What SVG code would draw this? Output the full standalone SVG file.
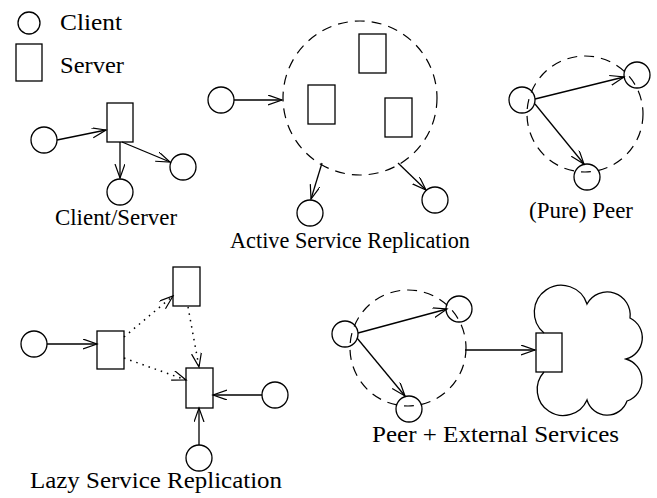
<svg xmlns="http://www.w3.org/2000/svg" width="657" height="498" viewBox="0 0 657 498">
<style>
.n{fill:none;stroke:#000;stroke-width:1.3}
.d{fill:none;stroke:#000;stroke-width:1.2;stroke-dasharray:10 7}
.a{fill:none;stroke:#000;stroke-width:1.3;marker-end:url(#ah)}
.o{fill:none;stroke:#000;stroke-width:1.5;stroke-dasharray:1.5 5;marker-end:url(#ah)}
text{font-family:"Liberation Serif","Times New Roman",serif;font-size:23px;fill:#000}
</style>
<defs>
<marker id="ah" markerUnits="userSpaceOnUse" markerWidth="16" markerHeight="12" refX="14" refY="5" orient="auto">
<path d="M0,0 L14,5 L0,10" fill="none" stroke="#000" stroke-width="1.2"/>
</marker>
</defs>
<rect width="657" height="498" fill="#fff"/>

<g id="legend">
<circle class="n" cx="29" cy="23" r="11"/>
<text x="60" y="30" font-size="22" textLength="62" lengthAdjust="spacingAndGlyphs">Client</text>
<rect class="n" x="16" y="44" width="26" height="37"/>
<text x="60" y="73" font-size="22" textLength="64" lengthAdjust="spacingAndGlyphs">Server</text>
</g>

<g id="client-server">
<rect class="n" x="107" y="103" width="26" height="39"/>
<circle class="n" cx="44" cy="140" r="13"/>
<circle class="n" cx="120" cy="192" r="13"/>
<circle class="n" cx="183" cy="167" r="13"/>
<text x="55" y="225" textLength="122" lengthAdjust="spacingAndGlyphs">Client/Server</text>
</g>

<g id="active-replication">
<circle class="d" cx="360" cy="98" r="77"/>
<rect class="n" x="359" y="34" width="27" height="39"/>
<rect class="n" x="308" y="85" width="27" height="39"/>
<rect class="n" x="385" y="98" width="27" height="39"/>
<circle class="n" cx="221" cy="100" r="13"/>
<circle class="n" cx="310" cy="213" r="13"/>
<circle class="n" cx="435" cy="200" r="13"/>
<text x="230" y="248" textLength="240" lengthAdjust="spacingAndGlyphs">Active Service Replication</text>
</g>

<g id="pure-peer">
<circle class="d" cx="585" cy="114" r="58"/>
<circle class="n" cx="522" cy="100" r="13"/>
<circle class="n" cx="637" cy="75" r="13"/>
<circle class="n" cx="587" cy="177" r="13"/>
<text x="581" y="218" text-anchor="middle" textLength="104" lengthAdjust="spacingAndGlyphs">(Pure) Peer</text>
</g>

<g id="lazy-replication">
<rect class="n" x="173" y="267" width="27" height="39"/>
<rect class="n" x="97" y="331" width="27" height="38"/>
<rect class="n" x="186" y="368" width="27" height="40"/>
<circle class="n" cx="34" cy="344" r="13"/>
<circle class="n" cx="275" cy="395" r="13"/>
<circle class="n" cx="199" cy="458" r="13"/>
<text x="30" y="488" textLength="252" lengthAdjust="spacingAndGlyphs">Lazy Service Replication</text>
</g>

<g id="peer-external">
<circle class="d" cx="408" cy="348" r="58"/>
<circle class="n" cx="345" cy="334" r="13"/>
<circle class="n" cx="459" cy="309" r="13"/>
<circle class="n" cx="409" cy="409" r="13"/>
<path class="n" d="M544,333 A27,27 0 1 1 587,304 A23,23 0 0 1 630,318 A22,22 0 0 1 626,359 A22,22 0 0 1 627,401 A21,21 0 0 1 587,400 A26,26 0 1 1 544,372"/>
<rect class="n" x="536" y="333" width="26" height="39" fill="#fff"/>
<text x="372" y="442" textLength="247" lengthAdjust="spacingAndGlyphs">Peer + External Services</text>
</g>

<g id="connectors">
<line class="a" x1="57" y1="140" x2="106" y2="130"/>
<line class="a" x1="120" y1="142" x2="120" y2="178"/>
<line class="a" x1="122" y1="142" x2="170" y2="162"/>

<line class="a" x1="234" y1="100" x2="282" y2="100"/>
<line class="a" x1="322" y1="163" x2="311" y2="199"/>
<line class="a" x1="398" y1="163" x2="426" y2="190"/>

<line class="a" x1="535" y1="99" x2="624" y2="77"/>
<line class="a" x1="535" y1="104" x2="584" y2="164"/>

<line class="a" x1="47" y1="344" x2="97" y2="344"/>
<line class="a" x1="262" y1="395" x2="213" y2="395"/>
<line class="a" x1="199" y1="445" x2="199" y2="408"/>
<line class="o" x1="124" y1="337" x2="173" y2="296"/>
<line class="o" x1="188" y1="307" x2="199" y2="367"/>
<line class="o" x1="124" y1="358" x2="186" y2="380"/>

<line class="a" x1="358" y1="333" x2="447" y2="309"/>
<line class="a" x1="357" y1="338" x2="405" y2="396"/>
<line class="a" x1="465" y1="350" x2="535" y2="350"/>
</g>
</svg>
